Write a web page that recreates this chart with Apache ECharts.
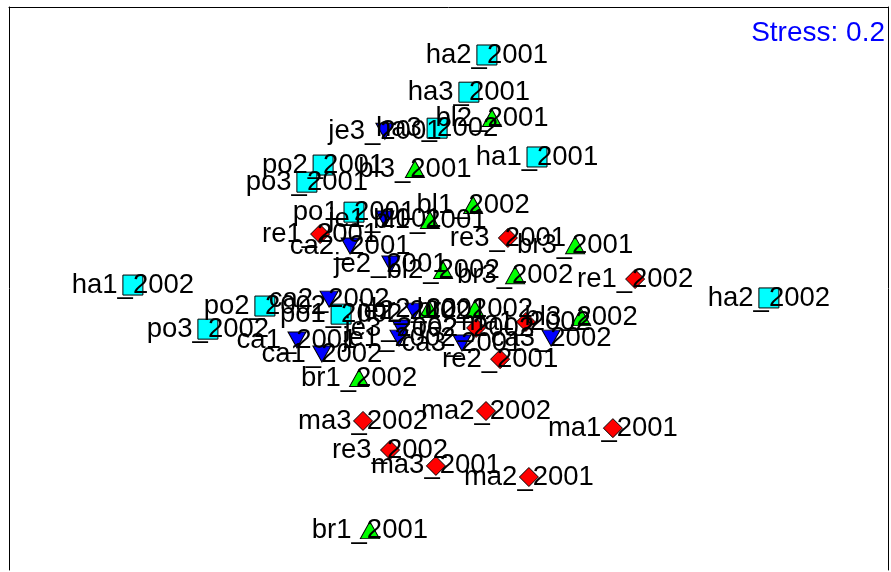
<!DOCTYPE html>
<html>
<head>
<meta charset="utf-8">
<script src="https://cdn.jsdelivr.net/npm/echarts@6/dist/echarts.min.js"></script>
<style>
html,body{margin:0;padding:0;background:#fff;}
#chart{width:891px;height:572px;}
</style>
</head>
<body>
<div id="chart"></div>
<script>
// NMDS site scores (arbitrary NMDS units)
const squareNames = ['ha1_2001','ha2_2001','ha3_2001','ha1_2002','ha2_2002','ha3_2002','po1_2001','po2_2001','po3_2001','po1_2002','po2_2002','po3_2002'];
const squareX = [0.290, 0.123, 0.063, -1.057, 1.063, -0.043, -0.320, -0.423, -0.477, -0.363, -0.617, -0.807];
const squareY = [0.477, 0.817, 0.693, 0.050, 0.007, 0.573, 0.293, 0.450, 0.393, -0.047, -0.020, -0.097];

const downNames = ['je1_2001','je2_2001','je3_2001','ca1_2001','ca2_2001','ca3_2001','je1_2002','je2_2002','je3_2002','ca1_2002','ca2_2002','ca3_2002'];
const downX = [-0.217, -0.197, -0.217, -0.510, -0.333, 0.040, -0.170, -0.120, -0.163, -0.427, -0.403, 0.337];
const downY = [0.270, 0.120, 0.563, -0.133, 0.180, -0.143, -0.127, -0.037, -0.093, -0.180, 0.003, -0.127];

const upNames = ['bl1_2001','bl2_2001','bl3_2001','br1_2001','br2_2001','br3_2001','bl1_2002','bl2_2002','bl3_2002','br1_2002','br2_2002','br3_2002'];
const upX = [-0.067, 0.140, -0.117, -0.267, -0.070, 0.417, 0.077, -0.023, 0.437, -0.303, 0.083, 0.217];
const upY = [0.267, 0.607, 0.437, -0.767, -0.030, 0.183, 0.317, 0.100, -0.057, -0.260, -0.030, 0.083];

const diamondNames = ['re1_2001','re2_2001','re3_2001','ma1_2001','ma2_2001','ma3_2001','re1_2002','re2_2002','re3_2002','ma1_2002','ma2_2002','ma3_2002'];
const diamondX = [-0.433, 0.167, 0.193, 0.543, 0.263, -0.047, 0.617, 0.087, -0.200, 0.253, 0.120, -0.290];
const diamondY = [0.220, -0.197, 0.207, -0.427, -0.590, -0.553, 0.070, -0.093, -0.500, -0.073, -0.370, -0.403];

const stressText = 'Stress: 0.2';

function pts(names, xs, ys) {
  return names.map((n, i) => ({ name: n, value: [xs[i], ys[i]] }));
}

const labelStyle = {
  show: true,
  position: 'inside',
  formatter: '{b}',
  color: '#000',
  fontSize: 27.5,
  fontFamily: 'Liberation Sans, Arial, sans-serif'
};

function mkSeries(name, data, symbol, size, color, rotate) {
  return {
    name: name,
    type: 'scatter',
    data: data,
    symbol: symbol,
    symbolSize: size,
    symbolRotate: rotate || 0,
    itemStyle: { color: color, borderColor: '#000', borderWidth: 1, opacity: 1 },
    label: labelStyle,
    emphasis: { disabled: true }
  };
}

const frameLine = { show: true, onZero: false, lineStyle: { color: '#000', width: 1 } };
const hidden = { axisTick: { show: false }, axisLabel: { show: false }, splitLine: { show: false } };

const chart = echarts.init(document.getElementById('chart'), null, { renderer: 'canvas' });
chart.setOption({
  animation: false,
  backgroundColor: '#fff',
  grid: { left: 9, right: 3, top: 7, bottom: 2, show: false },
  xAxis: Object.assign({ type: 'value', min: -1.47, max: 1.46, position: 'top', axisLine: frameLine }, hidden),
  yAxis: [
    Object.assign({ type: 'value', min: -0.9, max: 0.977, position: 'left', axisLine: frameLine }, hidden),
    Object.assign({ type: 'value', min: -0.9, max: 0.977, position: 'right', axisLine: frameLine }, hidden)
  ],
  graphic: [{
    type: 'text',
    right: 6,
    top: 19,
    style: { text: stressText, fill: '#0000FF', fontSize: 28, fontFamily: 'Liberation Sans, Arial, sans-serif' }
  }],
  series: [
    mkSeries('square', pts(squareNames, squareX, squareY), 'rect', 20, '#00FFFF'),
    mkSeries('down', pts(downNames, downX, downY), 'triangle', [18, 16], '#0000FF', 180),
    mkSeries('up', pts(upNames, upX, upY), 'triangle', [19, 17], '#00FF00'),
    mkSeries('diamond', pts(diamondNames, diamondX, diamondY), 'diamond', 19, '#FF0000')
  ]
});
</script>
</body>
</html>
